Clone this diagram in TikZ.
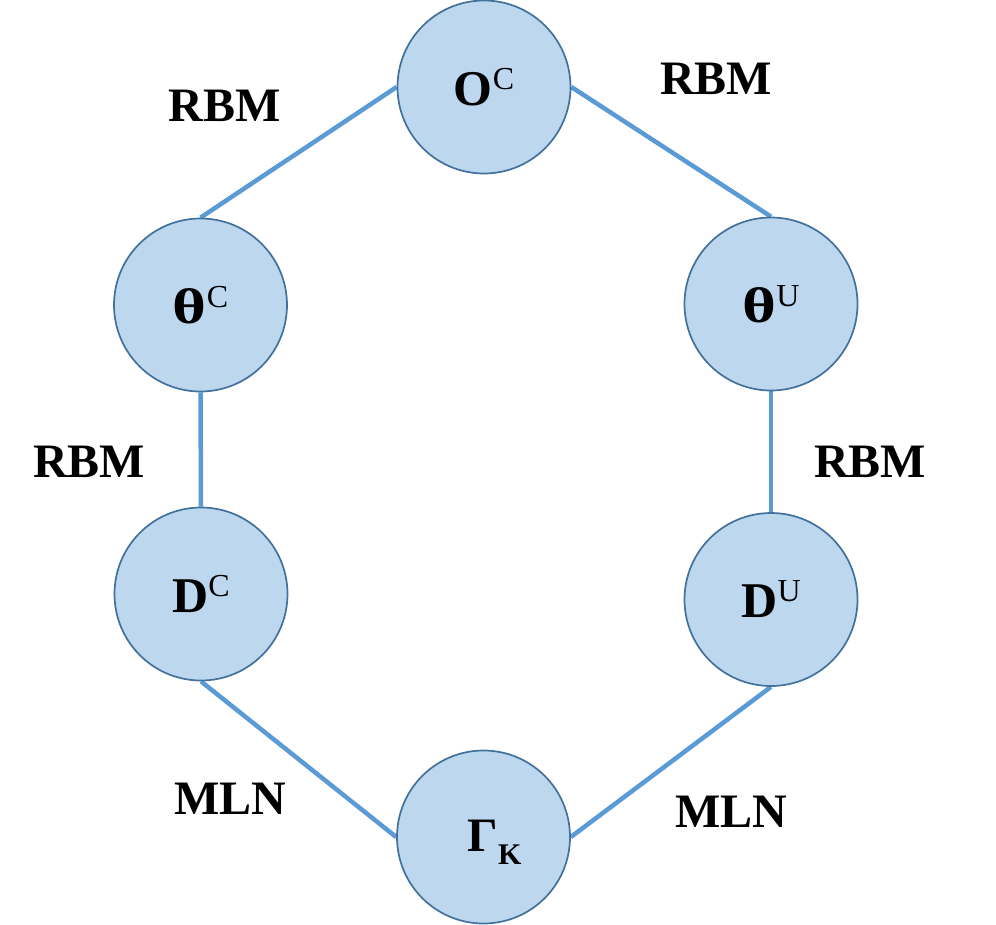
\documentclass[tikz,border=0pt]{standalone}
\usepackage{fontspec}
\setmainfont{Liberation Serif}
\usetikzlibrary{backgrounds}
\definecolor{cfill}{HTML}{BDD7EE}
\definecolor{cborder}{HTML}{41719C}
\definecolor{cline}{HTML}{5B9BD5}
\newcommand\supnode[2]{{\fontsize{50}{50}\selectfont\bfseries #1}\raisebox{16pt}{\fontsize{32}{32}\selectfont #2}}
\newcommand\subnode[2]{{\fontsize{48}{48}\selectfont\bfseries #1}\raisebox{-13pt}{\fontsize{30}{30}\selectfont\bfseries #2}}
\newcommand\widetheta{\scalebox{1.3}[1]{θ}}
\begin{document}
\begin{tikzpicture}[x=1pt,y=-1pt,
  state/.style={circle,draw=cborder,line width=1.7pt,fill=cfill,minimum size=173pt,inner sep=0pt},
  conn/.style={draw=cline,line width=4.5pt},
  lbl/.style={font=\fontsize{48}{48}\selectfont\bfseries,inner sep=0pt}]
\useasboundingbox (0,0) rectangle (996,924);
\node[state] (oc) at (484,87) {\supnode{O}{C}};
\node[state] (thc) at (200.5,305) {\supnode{\widetheta}{C}};
\node[state] (thu) at (771,304) {\supnode{\widetheta}{U}};
\node[state] (dc) at (201,594) {\supnode{D}{C}};
\node[state] (du) at (771,599.5) {\supnode{D}{U}};
\node[state] (gk) at (483.5,837) {};
\node[inner sep=0pt] (gkt) at (494.5,842) {\subnode{Γ}{K}};
\begin{scope}[on background layer]
\draw[conn] (oc.west) -- (thc.north);
\draw[conn] (oc.east) -- (thu.north);
\draw[conn] (thc.south) -- (dc.north);
\draw[conn] (thu.south) -- (du.north);
\draw[conn] (dc.south) -- (gk.west);
\draw[conn] (du.south) -- (gk.east);
\end{scope}
\node[lbl] (l1) at (224.5,106) {RBM};
\node[lbl] (l2) at (716,79) {RBM};
\node[lbl] (l3) at (89,462) {RBM};
\node[lbl] (l4) at (870,462) {RBM};
\node[lbl] (l5) at (230,798.5) {MLN};
\node[lbl] (l6) at (731,812) {MLN};
\end{tikzpicture}
\end{document}
